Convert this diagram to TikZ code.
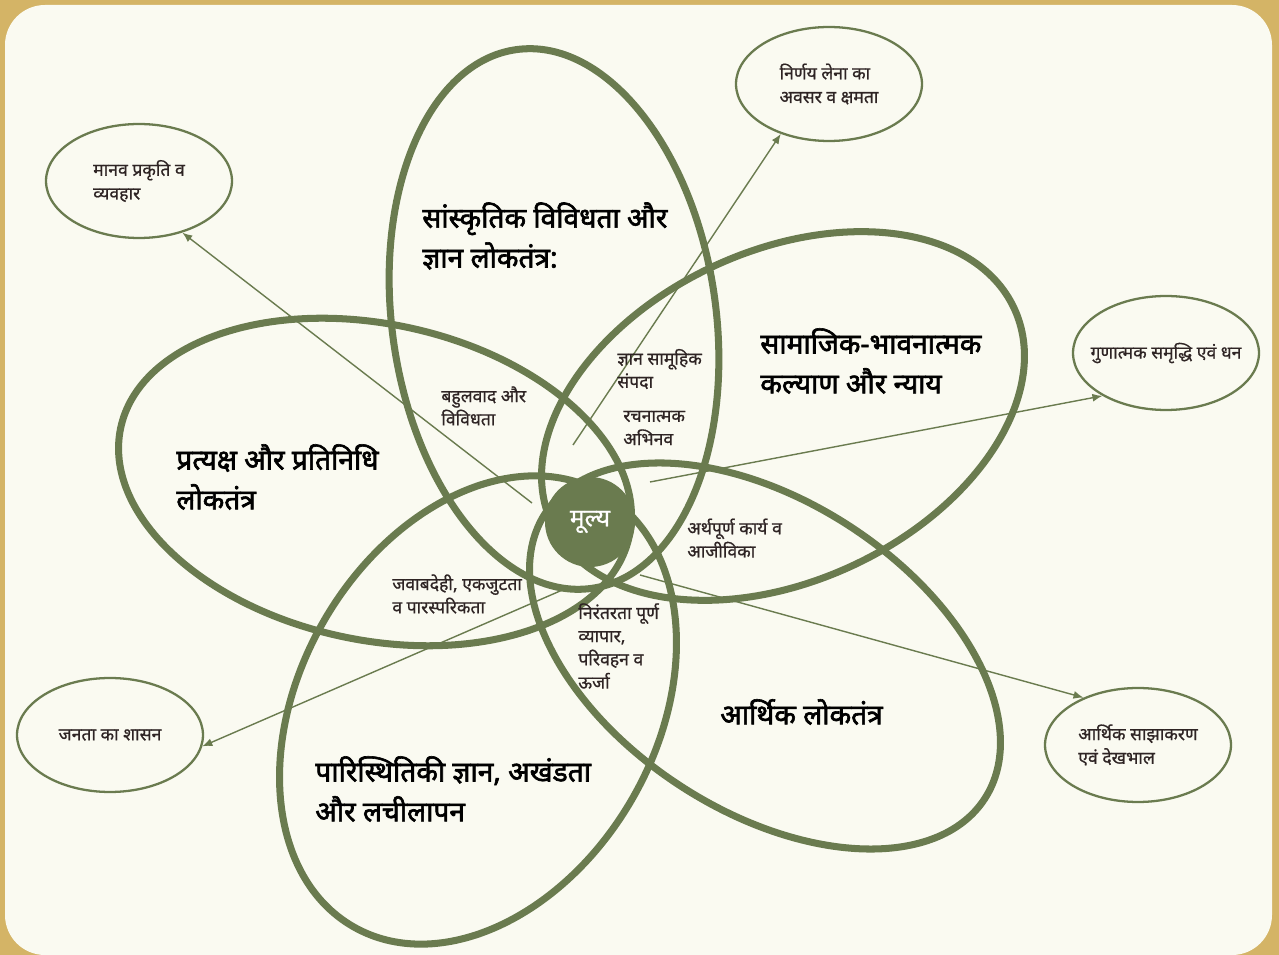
\documentclass[tikz,border=0pt]{standalone}
\usepackage{fontspec}
\setmainfont[Script=Devanagari, BoldFont={Noto Sans}, BoldFeatures={FakeBold=2.2}]{Noto Sans}
\newfontfamily\medium[Script=Devanagari, FakeBold=0.7]{Noto Sans}
\usetikzlibrary{arrows.meta,shapes.geometric}

\definecolor{petalgreen}{HTML}{6A7B4F}
\definecolor{paper}{HTML}{FAFAF1}
\definecolor{frame}{HTML}{D4B466}
\definecolor{ink}{HTML}{2E2424}

\begin{document}
\begin{tikzpicture}[
        x=0.02cm, y=-0.02cm,
        petal/.style={draw=petalgreen, line width=4pt},
        leaf/.style={ellipse, draw=petalgreen, line width=1.3pt, minimum width=3.72cm, minimum height=2.28cm, inner xsep=-0.5cm, inner ysep=0pt, align=left, text=ink, font=\medium\fontsize{10}{13.5}\selectfont},
        link/.style={draw=petalgreen, line width=0.8pt, -{Latex[length=2mm, width=1.6mm]}},
        core/.style={circle, fill=petalgreen, minimum size=1.8cm, inner sep=0pt, text=white, font=\medium\fontsize{14}{16}\selectfont},
        title/.style={anchor=west, inner sep=0pt, align=left, text=black, font=\bfseries\fontsize{16}{22.7}\selectfont},
        note/.style={anchor=west, inner sep=0pt, align=left, text=ink, font=\medium\fontsize{10}{13.2}\selectfont}
        ]
        \useasboundingbox (0,0) rectangle (1279,955);
        \fill[frame] (0,0) rectangle (1279,955);
        \fill[paper, rounded corners=0.8cm] (5,5) rectangle (1272,955);

        % the five petals
        \draw[petal, rotate around={8:(554,319)}] (554,319) ellipse (162 and 272);
        \draw[petal, rotate around={-12:(375,482)}] (375,482) ellipse (260 and 158);
        \draw[petal, rotate around={25:(783,416)}] (783,416) ellipse (255 and 165);
        \draw[petal, rotate around={-33:(765,656)}] (765,656) ellipse (262 and 155);
        \draw[petal, rotate around={-30:(478,710)}] (478,710) ellipse (178 and 250);

        % outer results
        \node[leaf] (human) at (139,181) {मानव प्रकृति व\\व्यवहार};
        \node[leaf] (decide) at (829,84) {निर्णय लेना का\\अवसर व क्षमता};
        \node[leaf] (wealth) at (1166,353) {गुणात्मक समृद्धि एवं धन};
        \node[leaf] (people) at (110,735) {जनता का शासन};
        \node[leaf] (share) at (1138,745) {आर्थिक साझाकरण\\एवं देखभाल};

        \coordinate (fromhuman) at (532,503);
        \coordinate (fromdecide) at (573,445);
        \coordinate (fromwealth) at (650,482);
        \coordinate (frompeople) at (567,588);
        \coordinate (fromshare) at (640,575);
        \draw[link] (fromhuman) -- (human.-50);
        \draw[link] (fromdecide) -- (decide.-134);
        \draw[link] (fromwealth) -- (wealth.-146);
        \draw[link] (frompeople) -- (people.-7);
        \draw[link] (fromshare) -- (share.139);

        \node[core] (value) at (590,522) {मूल्य};

        \node[title] (culture) at (422,236) {सांस्कृतिक विविधता और\\ज्ञान लोकतंत्र:};
        \node[title] (social) at (760,361) {सामाजिक-भावनात्मक\\कल्याण और न्याय};
        \node[title] (direct) at (176,477) {प्रत्यक्ष और प्रतिनिधि\\लोकतंत्र};
        \node[title] (economy) at (720,712) {आर्थिक लोकतंत्र};
        \node[title] (ecology) at (315,789) {पारिस्थितिकी ज्ञान, अखंडता\\और लचीलापन};

        \node[note] (plural) at (441,406) {बहुलवाद और\\विविधता};
        \node[note] (commons) at (617,369) {ज्ञान सामूहिक\\संपदा};
        \node[note] (create) at (623,428) {रचनात्मक\\अभिनव};
        \node[note] (work) at (687,538) {अर्थपूर्ण कार्य व\\आजीविका};
        \node[note] (account) at (392,594) {जवाबदेही, एकजुटता\\व पारस्परिकता};
        \node[note] (trade) at (578,646) {निरंतरता पूर्ण\\व्यापार,\\परिवहन व\\ऊर्जा};
    \end{tikzpicture}
\end{document}
